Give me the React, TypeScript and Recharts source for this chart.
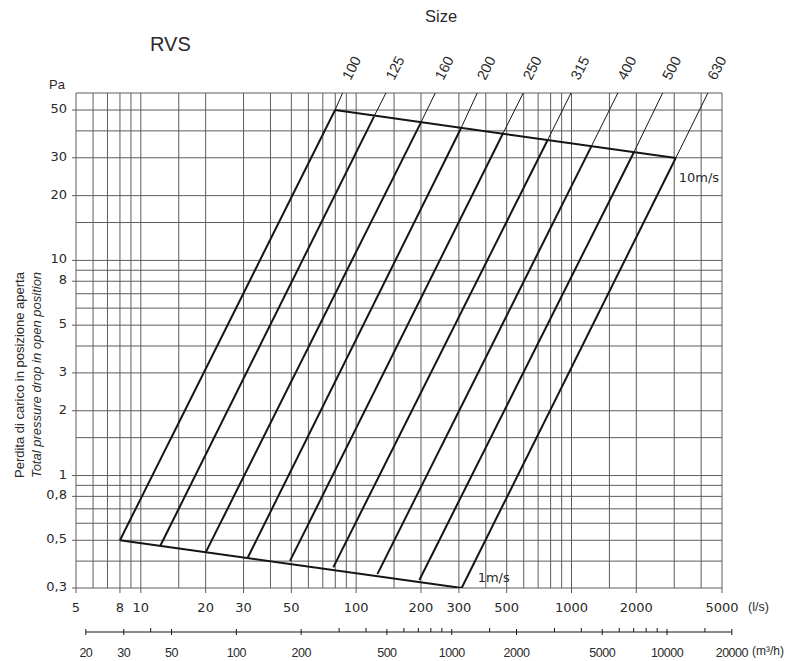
import { ComposedChart, Line, XAxis, YAxis, CartesianGrid, LabelList } from "recharts";

const sizes = ["100", "125", "160", "200", "250", "315", "400", "500", "630"];
// flow (l/s) and pressure drop (Pa) where each size starts, on the 1 m/s line
const flowAt1 = [8, 12.3, 20.1, 31.4, 49.3, 78.3, 125.5, 196.6, 309];
const dropAt1 = [0.5, 0.47, 0.443, 0.416, 0.401, 0.374, 0.348, 0.327, 0.3];
// same thing on the 10 m/s line
const flowAt10 = [79.8, 121, 199.5, 306, 483, 773, 1233, 1954, 3049];
const dropAt10 = [50, 46.6, 43.6, 40.9, 39.3, 36.1, 33.7, 32, 29.9];
// where the thin continuation leaves the top of the grid
const flowAtTop = [86.5, 137.5, 233, 365, 597, 995, 1642, 2650, 4300];
const dropAtTop = 60;

const lsTicks = [5, 6, 7, 8, 9, 10, 15, 20, 30, 40, 50, 60, 70, 80, 90, 100, 150, 200, 300, 400, 500, 600, 700, 800, 900, 1000, 1500, 2000, 3000, 4000, 5000];
const lsLabels = [5, 8, 10, 20, 30, 50, 100, 200, 300, 500, 1000, 2000, 5000];
const m3hTicks = [20, 30, 40, 50, 100, 200, 300, 400, 500, 600, 700, 800, 900, 1000, 1500, 2000, 3000, 4000, 5000, 6000, 7000, 8000, 9000, 10000, 15000, 20000];
const m3hLabels = [20, 30, 50, 100, 200, 500, 1000, 2000, 5000, 10000, 20000];
const paTicks = [0.3, 0.4, 0.5, 0.6, 0.7, 0.8, 0.9, 1, 1.5, 2, 3, 4, 5, 6, 7, 8, 9, 10, 15, 20, 30, 40, 50, 60];
const paLabels = [0.3, 0.5, 0.8, 1, 2, 3, 5, 8, 10, 20, 30, 50];

const INK = "#151515";
const GRID = "#5c5c5c";
const TEXT = "#2a2a2a";

// the m3/h scale has no series of its own, it only needs the chart data to get a domain
const m3hScale = m3hTicks.map((m) => ({ m }));

function LsTick(props: any) {
  const { x, y, payload } = props;
  if (!lsLabels.includes(payload.value)) return null;
  return (
    <g>
      <line x1={x} y1={y} x2={x} y2={y + 5} stroke={GRID} />
      <text x={x} y={y + 24} textAnchor="middle" fontSize={13} fill={TEXT} fontFamily="DejaVu Sans">
        {payload.value}
      </text>
    </g>
  );
}

function M3hTick(props: any) {
  const { x, y, payload, index, width } = props;
  const labelled = m3hLabels.includes(payload.value);
  const ly = y + 14;
  return (
    <g>
      {index === 0 && typeof width === "number" && (
        <line x1={x} y1={ly} x2={x + width} y2={ly} stroke={INK} />
      )}
      <line x1={x} y1={labelled ? ly - 3 : ly - 4} x2={x} y2={labelled ? ly + 3 : ly} stroke={INK} />
      {labelled && (
        <text x={x} y={y + 39} textAnchor="middle" fontSize={12.5} letterSpacing={-0.5} fill={TEXT} fontFamily="Liberation Sans">
          {payload.value}
        </text>
      )}
    </g>
  );
}

function PaTick(props: any) {
  const { x, y, payload } = props;
  if (!paLabels.includes(payload.value)) return null;
  return (
    <g>
      <line x1={x - 4} y1={y} x2={x} y2={y} stroke={GRID} />
      <text x={x - 9} y={y + 3} textAnchor="end" fontSize={13} fill={TEXT} fontFamily="DejaVu Sans">
        {String(payload.value).replace(".", ",")}
      </text>
    </g>
  );
}

function SizeLabel(props: any) {
  const { x, y, value } = props;
  if (!value) return null;
  const cx = x + 9;
  const cy = y - 25;
  return (
    <text
      x={cx}
      y={cy}
      textAnchor="middle"
      dominantBaseline="central"
      fontSize={14.5}
      fill={TEXT}
      fontFamily="Liberation Sans"
      transform={`rotate(-63 ${cx} ${cy})`}
    >
      {value}
    </text>
  );
}

function SpeedLabel(props: any) {
  const { x, y, value } = props;
  if (!value) return null;
  const low = value === "1m/s";
  return (
    <text
      x={low ? x + 16 : x + 3}
      y={low ? y - 6 : y + 24}
      fontSize={13}
      fill={TEXT}
      fontFamily="DejaVu Sans"
    >
      {value}
    </text>
  );
}

const oneMs = [
  { q: flowAt1[0], p: dropAt1[0] },
  { q: flowAt1[flowAt1.length - 1], p: dropAt1[dropAt1.length - 1], tag: "1m/s" },
];
const tenMs = [
  { q: flowAt10[0], p: dropAt10[0] },
  { q: flowAt10[flowAt10.length - 1], p: dropAt10[dropAt10.length - 1], tag: "10m/s" },
];

export default function App() {
  return (
    <div style={{ position: "absolute", left: 0, top: 0, width: 810, height: 661, background: "#fff", fontFamily: "Liberation Sans, Arial, sans-serif", color: TEXT }}>
      <div style={{ position: "absolute", left: 150, top: 33, fontSize: 20 }}>RVS</div>
      <div style={{ position: "absolute", left: 425, top: 7, fontSize: 16.5 }}>Size</div>
      <div style={{ position: "absolute", left: 49, top: 77, fontSize: 13 }}>Pa</div>
      <div
        style={{
          position: "absolute",
          left: 28,
          top: 375,
          width: 300,
          fontSize: 13,
          lineHeight: "17px",
          textAlign: "center",
          transform: "translate(-50%, -50%) rotate(-90deg)",
        }}
      >
        <div>Perdita di carico in posizione aperta</div>
        <div style={{ fontStyle: "italic" }}>Total pressure drop in open position</div>
      </div>

      <ComposedChart width={810} height={661} data={m3hScale} margin={{ top: 93, right: 88, bottom: 0, left: 0 }}>
        <CartesianGrid xAxisId="ls" yAxisId="pa" stroke={GRID} strokeWidth={1} />
        <XAxis
          xAxisId="ls"
          dataKey="q"
          type="number"
          scale="log"
          domain={[5, 5000]}
          ticks={lsTicks}
          interval={0}
          allowDataOverflow
          height={30}
          tickSize={0}
          tickMargin={0}
          axisLine={false}
          tick={<LsTick />}
          label={{ value: "(l/s)", position: "right", offset: 26, dy: 4, fontSize: 12.5, fill: TEXT }}
        />
        <XAxis
          xAxisId="m3h"
          dataKey="m"
          type="number"
          scale="log"
          domain={[18, 18000]}
          ticks={m3hTicks}
          interval={0}
          allowDataOverflow
          height={43}
          tickSize={0}
          tickMargin={0}
          axisLine={false}
          tick={<M3hTick />}
          label={{ value: "(m³/h)", position: "right", offset: 30, dy: 11, fontSize: 12, fill: TEXT }}
        />
        <YAxis
          yAxisId="pa"
          dataKey="p"
          type="number"
          scale="log"
          domain={[0.3, 60]}
          ticks={paTicks}
          interval={0}
          allowDataOverflow
          width={76}
          tickSize={0}
          tickMargin={0}
          axisLine={false}
          tick={<PaTick />}
        />

        {sizes.map((s, i) => (
          <Line
            key={`main-${s}`}
            xAxisId="ls"
            yAxisId="pa"
            data={[
              { q: flowAt1[i], p: dropAt1[i] },
              { q: flowAt10[i], p: dropAt10[i] },
            ]}
            dataKey="p"
            type="linear"
            stroke={INK}
            strokeWidth={2}
            dot={false}
            activeDot={false}
            isAnimationActive={false}
          />
        ))}
        {sizes.map((s, i) => (
          <Line
            key={`ext-${s}`}
            xAxisId="ls"
            yAxisId="pa"
            data={[
              { q: flowAt10[i], p: dropAt10[i] },
              { q: flowAtTop[i], p: dropAtTop, size: s },
            ]}
            dataKey="p"
            type="linear"
            stroke={INK}
            strokeWidth={1}
            dot={false}
            activeDot={false}
            isAnimationActive={false}
          >
            <LabelList dataKey="size" content={<SizeLabel />} />
          </Line>
        ))}
        <Line xAxisId="ls" yAxisId="pa" data={oneMs} dataKey="p" type="linear" stroke={INK} strokeWidth={2} dot={false} activeDot={false} isAnimationActive={false}>
          <LabelList dataKey="tag" content={<SpeedLabel />} />
        </Line>
        <Line xAxisId="ls" yAxisId="pa" data={tenMs} dataKey="p" type="linear" stroke={INK} strokeWidth={2} dot={false} activeDot={false} isAnimationActive={false}>
          <LabelList dataKey="tag" content={<SpeedLabel />} />
        </Line>
      </ComposedChart>
    </div>
  );
}
